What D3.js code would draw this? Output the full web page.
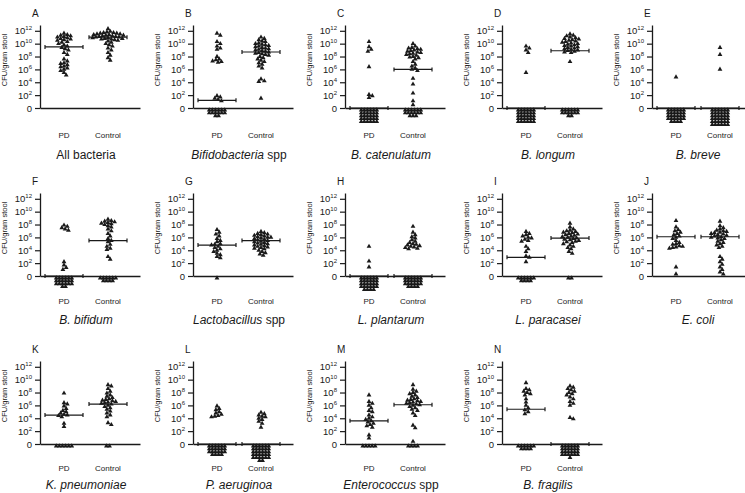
<!DOCTYPE html>
<html>
<head>
<meta charset="utf-8">
<script src="https://cdn.jsdelivr.net/npm/d3@7"></script>
<style>
  body { margin: 0; background: #fff; }
  svg { display: block; font-family: Arial, "Liberation Sans", sans-serif; }
</style>
</head>
<body>
<div id="chart"></div>
<script>
const groups = ["PD", "Control"];
const letters = ["A", "B", "C", "D", "E", "F", "G", "H", "I", "J", "K", "L", "M", "N"];
const titles = [
  [["All bacteria", false]],
  [["Bifidobacteria", true], [" spp", false]],
  [["B. catenulatum", true]],
  [["B. longum", true]],
  [["B. breve", true]],
  [["B. bifidum", true]],
  [["Lactobacillus", true], [" spp", false]],
  [["L. plantarum", true]],
  [["L. paracasei", true]],
  [["E. coli", true]],
  [["K. pneumoniae", true]],
  [["P. aeruginoa", true]],
  [["Enterococcus", true], [" spp", false]],
  [["B. fragilis", true]]
];
const yTickExps = [0, 2, 4, 6, 8, 10, 12];

// log10 CFU/gram stool, non-zero samples
const pdLog = [
  [11.6, 11.4, 11.3, 11.2, 11.1, 11.0, 10.9, 10.8, 10.7, 10.6, 10.5, 10.3, 10.2, 10.0, 9.8, 9.6, 9.4, 9.2, 9.0, 8.6, 8.3, 7.6, 7.3, 7.0, 6.9, 6.7, 6.5, 6.4, 6.2, 6.0, 5.8, 5.5, 5.1],
  [11.6, 11.3, 10.3, 10.0, 9.6, 9.3, 9.1, 8.0, 7.6, 7.5, 7.3, 7.2, 7.1, 1.9, 1.7, 1.5, 1.3, 1.1],
  [10.3, 9.5, 9.1, 8.8, 6.4, 2.1, 1.9, 1.6],
  [9.6, 9.3, 9.0, 8.6, 5.5],
  [4.8],
  [7.9, 7.7, 7.5, 7.3, 7.1, 2.2, 1.7, 1.3, 1.0],
  [7.2, 6.8, 6.5, 6.2, 5.8, 5.5, 5.3, 5.0, 4.9, 4.8, 4.6, 4.4, 4.2, 4.0, 3.8, 3.5, 3.3, 3.0, 2.8],
  [4.6, 2.3, 1.4],
  [6.9, 6.6, 6.4, 6.2, 6.0, 5.9, 5.7, 5.5, 5.4, 4.6, 4.2, 3.8, 3.1, 2.9, 2.2],
  [8.6, 7.6, 7.2, 7.0, 6.8, 6.6, 6.4, 6.2, 6.0, 5.8, 5.5, 5.2, 5.0, 4.9, 4.7, 4.6, 4.5, 4.4, 4.3, 1.4, 0.3],
  [7.9, 6.4, 6.2, 5.9, 5.5, 5.2, 5.0, 4.8, 4.6, 4.5, 4.4, 4.2, 3.2, 2.7],
  [5.9, 5.5, 5.3, 5.0, 4.8, 4.6, 4.4, 4.3, 4.2],
  [7.6, 6.6, 6.3, 6.0, 5.6, 5.2, 5.0, 4.5, 4.2, 4.0, 3.8, 3.6, 3.4, 3.2, 3.0, 2.8, 2.6, 1.4, 0.9],
  [9.5, 8.6, 8.4, 8.2, 8.0, 7.8, 7.6, 7.0, 6.5, 6.0, 5.6, 5.3, 5.0, 4.7]
];
const controlLog = [
  [12.3, 11.9, 11.8, 11.7, 11.7, 11.6, 11.6, 11.5, 11.5, 11.4, 11.4, 11.3, 11.3, 11.2, 11.2, 11.1, 11.1, 11.0, 11.0, 10.9, 10.9, 10.8, 10.8, 10.7, 10.7, 10.6, 10.5, 10.4, 10.2, 10.0, 9.8, 9.6, 9.3, 9.0, 8.6, 8.2, 7.8, 7.4],
  [11.0, 10.8, 10.6, 10.4, 10.3, 10.1, 10.0, 9.9, 9.8, 9.7, 9.6, 9.5, 9.4, 9.3, 9.2, 9.1, 9.0, 8.9, 8.8, 8.7, 8.6, 8.5, 8.4, 8.3, 8.2, 8.0, 7.8, 7.6, 7.4, 7.2, 7.0, 6.8, 6.5, 6.2, 4.5, 4.2, 4.1, 1.5],
  [10.0, 9.6, 9.4, 9.3, 9.2, 9.1, 9.0, 8.9, 8.8, 8.7, 8.6, 8.5, 8.4, 8.3, 8.2, 8.0, 7.9, 7.8, 7.6, 7.2, 6.8, 6.5, 6.2, 6.0, 5.8, 4.6, 3.7, 2.3, 1.1, 0.5],
  [11.5, 11.3, 11.2, 11.0, 10.9, 10.8, 10.7, 10.6, 10.5, 10.4, 10.3, 10.2, 10.1, 10.0, 9.9, 9.8, 9.7, 9.6, 9.5, 9.4, 9.3, 9.2, 9.1, 9.0, 8.9, 8.8, 8.7, 8.6, 7.2],
  [9.4, 8.3, 6.0],
  [8.8, 8.6, 8.5, 8.4, 8.3, 8.2, 8.1, 8.0, 7.8, 7.6, 7.3, 7.0, 6.6, 6.2, 5.8, 5.5, 5.3, 4.9, 4.6, 4.3, 4.1, 3.0, 2.6],
  [6.9, 6.7, 6.6, 6.5, 6.4, 6.3, 6.2, 6.1, 6.0, 6.0, 5.9, 5.8, 5.7, 5.6, 5.5, 5.4, 5.3, 5.2, 5.1, 5.0, 4.9, 4.8, 4.7, 4.6, 4.5, 4.4, 4.3, 4.2, 4.0, 3.8, 3.6, 3.4, 3.2],
  [7.7, 6.8, 6.4, 6.1, 5.9, 5.6, 5.4, 5.2, 5.0, 4.9, 4.8, 4.7, 4.6, 4.5, 4.4, 4.3, 4.2],
  [8.2, 7.6, 7.3, 7.1, 7.0, 6.9, 6.8, 6.7, 6.6, 6.5, 6.4, 6.3, 6.2, 6.1, 6.0, 5.9, 5.8, 5.7, 5.6, 5.5, 5.4, 5.3, 5.2, 5.0, 4.8, 4.6, 4.4, 4.2, 3.8, 3.5],
  [8.5, 7.8, 7.5, 7.3, 7.1, 7.0, 6.9, 6.8, 6.7, 6.6, 6.5, 6.4, 6.3, 6.2, 6.1, 6.0, 5.9, 5.8, 5.6, 5.4, 5.2, 5.0, 4.8, 4.6, 4.4, 3.0, 2.6, 2.2, 1.8, 1.4, 1.0, 0.6, 0.3],
  [9.2, 9.0, 8.6, 8.2, 7.9, 7.6, 7.4, 7.2, 7.0, 6.9, 6.8, 6.7, 6.6, 6.5, 6.4, 6.3, 6.2, 6.0, 5.8, 5.6, 5.4, 5.1, 4.8, 4.5, 4.2, 3.3, 3.0],
  [4.9, 4.7, 4.5, 4.3, 4.2, 4.0, 3.8, 3.5, 3.2, 2.6],
  [9.2, 8.5, 8.2, 8.0, 7.8, 7.6, 7.4, 7.2, 7.0, 6.9, 6.8, 6.7, 6.6, 6.5, 6.4, 6.3, 6.2, 6.1, 6.0, 5.8, 5.6, 5.4, 5.2, 4.8, 4.4, 2.9, 2.5, 0.4],
  [9.0, 8.8, 8.6, 8.4, 8.2, 8.0, 7.8, 7.6, 7.3, 7.0, 6.6, 6.3, 6.0, 4.1, 3.9]
];
// samples below detection (plotted under the 0 line)
const pdZeroCount = [0, 14, 30, 30, 28, 20, 1, 28, 10, 0, 6, 22, 5, 10];
const controlZeroCount = [0, 0, 15, 14, 36, 10, 0, 22, 2, 0, 2, 32, 4, 25];
const pdMedian = [9.5, 1.2, 0, 0, 0, 0, 4.8, 0, 2.9, 6.1, 4.5, 0, 3.6, 5.4];
const controlMedian = [11.0, 8.7, 6.0, 8.9, 0, 5.5, 5.5, 0, 5.9, 6.1, 6.2, 0, 6.1, 0];

const axisX = [40, 193, 345, 502, 652];
const rowZero = [108, 276, 444];
const labelOffset = [30, 28, 27];
const titleOffset = [51, 48, 45];
const axisLen = 100;
const ink = "#1a1a1a";

const svg = d3.select("#chart").append("svg")
  .attr("width", 745)
  .attr("height", 493);

const tri = d3.symbol().type(d3.symbolTriangle).size(10);

// simple beeswarm: push each point sideways until it is free
function dodge(values, yScale, cx, minDist) {
  const placed = [];
  values.forEach(v => {
    const py = yScale(v);
    for (let k = 0; k < 120; k++) {
      const off = (k % 2 ? 1 : -1) * Math.ceil(k / 2) * 1.1;
      const ok = placed.every(p => (p.x - off) ** 2 + (p.y - py) ** 2 >= minDist * minDist);
      if (ok) { placed.push({ x: off, y: py }); break; }
    }
  });
  return placed.map(p => ({ x: cx + p.x, y: p.y }));
}

function zeroGrid(n, cx) {
  const pts = [];
  const perRow = 6;
  for (let i = 0; i < n; i++) {
    const c = i % perRow, r = Math.floor(i / perRow);
    const rowCols = Math.min(perRow, n - r * perRow);
    pts.push({ x: cx + (c - (rowCols - 1) / 2) * 3.1, y: 2 + r * 2.9 });
  }
  return pts;
}

letters.forEach((letter, i) => {
  const col = i % 5, row = Math.floor(i / 5);
  const g = svg.append("g")
    .attr("transform", `translate(${axisX[col]},${rowZero[row]})`);

  const y = d3.scaleLinear().domain([0, 12.9]).range([0, -83]);
  const x = d3.scalePoint().domain(groups).range([24, 68]);

  // y axis
  const yAxisG = g.append("g")
    .call(d3.axisLeft(y).tickValues(yTickExps).tickSize(5).tickSizeOuter(0).tickPadding(3));
  yAxisG.select(".domain").attr("stroke", ink).attr("stroke-width", 1.3);
  yAxisG.selectAll(".tick line").attr("stroke", ink).attr("stroke-width", 1.2);
  yAxisG.selectAll(".tick text")
    .attr("fill", ink)
    .attr("font-size", 9.5)
    .attr("font-family", "Arial, 'Liberation Sans', sans-serif")
    .each(function(d) {
      const t = d3.select(this).text("");
      if (d === 0) {
        t.text("0");
      } else {
        t.append("tspan").text("10");
        t.append("tspan").attr("dy", -4).attr("font-size", 6).text(d);
      }
    });

  // x axis (plain baseline)
  const xLine = d3.scaleLinear().domain([0, axisLen]).range([0, axisLen]);
  const xAxisG = g.append("g")
    .call(d3.axisBottom(xLine).tickValues([]).tickSizeOuter(0));
  xAxisG.select(".domain").attr("stroke", ink).attr("stroke-width", 1.3);

  // labels
  g.append("text")
    .attr("x", -8).attr("y", -91)
    .attr("font-size", 10).attr("fill", ink)
    .text(letter);

  g.append("text")
    .attr("transform", `translate(-33,-48) rotate(-90)`)
    .attr("text-anchor", "middle")
    .attr("font-size", 7.5).attr("fill", ink)
    .text("CFU/gram stool");

  groups.forEach(grp => {
    g.append("text")
      .attr("x", x(grp)).attr("y", labelOffset[row])
      .attr("text-anchor", "middle")
      .attr("font-size", 8).attr("fill", ink)
      .text(grp);
  });

  const title = g.append("text")
    .attr("x", (x("PD") + x("Control")) / 2).attr("y", titleOffset[row])
    .attr("text-anchor", "middle")
    .attr("font-size", 12).attr("fill", ink);
  titles[i].forEach(([txt, it]) => {
    title.append("tspan").attr("font-style", it ? "italic" : "normal").text(txt);
  });

  // points
  const series = [
    { grp: "PD", vals: pdLog[i], zeros: pdZeroCount[i], med: pdMedian[i] },
    { grp: "Control", vals: controlLog[i], zeros: controlZeroCount[i], med: controlMedian[i] }
  ];
  series.forEach(s => {
    const cx = x(s.grp);
    const pts = dodge(s.vals, y, cx, 3.0).concat(zeroGrid(s.zeros, cx));
    g.append("g").selectAll("path")
      .data(pts)
      .enter()
      .append("path")
      .attr("d", tri)
      .attr("transform", d => `translate(${d.x},${d.y})`)
      .attr("fill", ink);

    const my = y(s.med);
    const med = g.append("g").attr("stroke", ink).attr("stroke-width", 1.2);
    med.append("line").attr("x1", cx - 19).attr("x2", cx + 19).attr("y1", my).attr("y2", my);
    [cx - 19, cx + 19].forEach(ex => {
      med.append("line").attr("x1", ex).attr("x2", ex).attr("y1", my - 2).attr("y2", my + 2);
    });
  });
});
</script>
</body>
</html>
